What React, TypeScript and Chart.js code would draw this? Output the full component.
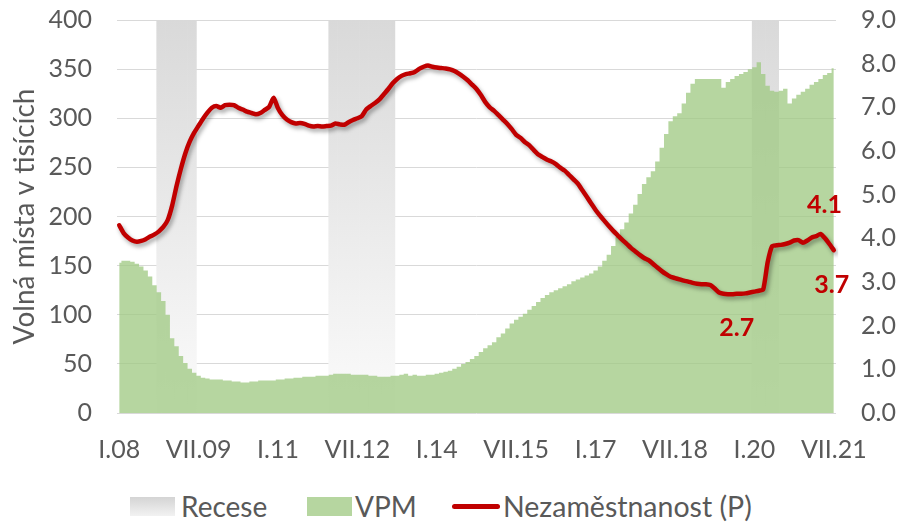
import React, { useEffect, useRef } from 'react';
import { Chart, registerables } from 'chart.js';

Chart.register(...registerables);

// ---------- DATA ----------
const ROMAN = ['I', 'II', 'III', 'IV', 'V', 'VI', 'VII', 'VIII', 'IX', 'X', 'XI', 'XII'];
const MONTH_COUNT = 163; // I.08 .. VII.21
const categories: string[] = Array.from({ length: MONTH_COUNT }, (_, i) =>
  `${ROMAN[i % 12]}.${String(8 + Math.floor(i / 12)).padStart(2, '0')}`
);
const tickEvery = 18;

// Volná pracovní místa (tis.)
const vpm = [
  153, 155, 155, 154, 152, 149, 145, 139, 130, 123, 114, 100,
  76, 68, 58, 51, 45, 41, 38, 36, 35, 34, 34, 34,
  33, 33, 32, 32, 31, 31, 32, 32, 33, 33, 33, 33,
  34, 34, 35, 35, 36, 36, 37, 37, 37, 38, 38, 38,
  39, 40, 40, 40, 40, 39, 39, 39, 39, 38, 38, 37,
  37, 37, 38, 38, 39, 40, 38, 39, 38, 38, 39, 39,
  40, 41, 42, 43, 45, 47, 50, 52, 55, 58, 62, 66,
  69, 72, 77, 81, 86, 91, 95, 98, 101, 105, 109, 113,
  117, 120, 123, 125, 127, 129, 131, 134, 136, 138, 140, 142,
  145, 149, 155, 161, 170, 179, 187, 194, 203, 212, 223, 233,
  240, 246, 256, 270, 284, 297, 302, 305, 315, 326, 335, 340,
  340, 340, 340, 340, 340, 331, 337, 340, 343, 345, 347, 350,
  352, 357, 345, 333, 328, 327, 328, 330, 315, 320, 324, 327,
  330, 334, 337, 340, 344, 346, 351,
];

// Nezaměstnanost (%), pravá osa
const unemployment = [
  4.30, 4.12, 4.02, 3.95, 3.92, 3.94, 3.98, 4.04, 4.09, 4.16, 4.26, 4.42,
  4.75, 5.20, 5.60, 5.95, 6.22, 6.42, 6.58, 6.74, 6.88, 6.99, 7.03, 6.99,
  7.05, 7.06, 7.05, 6.99, 6.95, 6.90, 6.87, 6.84, 6.87, 6.94, 7.01, 7.22,
  6.98, 6.82, 6.72, 6.66, 6.63, 6.64, 6.62, 6.58, 6.56, 6.57, 6.56, 6.57,
  6.58, 6.63, 6.61, 6.60, 6.66, 6.71, 6.75, 6.80, 6.95, 7.03, 7.10, 7.18,
  7.30, 7.42, 7.55, 7.65, 7.72, 7.76, 7.78, 7.81, 7.88, 7.93, 7.96, 7.93,
  7.91, 7.90, 7.89, 7.87, 7.83, 7.77, 7.70, 7.62, 7.52, 7.42, 7.28, 7.12,
  7.00, 6.92, 6.82, 6.72, 6.62, 6.50, 6.37, 6.30, 6.20, 6.13, 6.02, 5.92,
  5.86, 5.80, 5.76, 5.70, 5.62, 5.55, 5.45, 5.35, 5.25, 5.10, 4.95, 4.80,
  4.65, 4.52, 4.40, 4.28, 4.17, 4.07, 3.97, 3.88, 3.78, 3.70, 3.62, 3.55,
  3.50, 3.42, 3.33, 3.25, 3.18, 3.12, 3.09, 3.06, 3.03, 3.01, 2.98, 2.96,
  2.95, 2.95, 2.93, 2.85, 2.76, 2.73, 2.72, 2.72, 2.73, 2.73, 2.74, 2.76,
  2.78, 2.80, 2.83, 3.45, 3.82, 3.84, 3.85, 3.87, 3.90, 3.95, 3.96, 3.90,
  3.95, 4.02, 4.05, 4.10, 4.00, 3.87, 3.73,
];

// Recese (od – do)
const recessionPeriods: [string, string][] = [
  ['X.08', 'VI.09'],
  ['I.12', 'III.13'],
  ['I.20', 'VI.20'],
];

// Popisky hodnot nezaměstnanosti
const labelledMonths = ['IX.19', 'IV.21', 'VII.21'];

const leftMax = 400;
const leftStep = 50;
const rightMax = 9;
const rightStep = 1;

const seriesNames = { recession: 'Recese', vpm: 'VPM', unemp: 'Nezaměstnanost (P)' };
const leftTitle = 'Volná místa v tisících';

// ---------- derived ----------
const recessionData = categories.map((_, i) =>
  recessionPeriods.some(([a, b]) => i >= categories.indexOf(a) && i <= categories.indexOf(b)) ? leftMax : null
);

// ---------- styles ----------
const FONT = 'Lato';
const TEXT = '#595959';
const RED = '#c00000';
const GREEN = 'rgba(158, 200, 128, 0.75)';

const labelOffsets: Record<string, [number, number]> = {
  'IX.19': [0, 34],
  'IV.21': [4, -29],
  'VII.21': [-2, 35],
};

const shadowPlugin = {
  id: 'lineShadow',
  beforeDatasetDraw(chart: any, args: any) {
    if (args.index === 2) {
      const c = chart.ctx;
      c.save();
      c.shadowColor = 'rgba(0,0,0,0.35)';
      c.shadowBlur = 4;
      c.shadowOffsetX = 2;
      c.shadowOffsetY = 3;
    }
  },
  afterDatasetDraw(chart: any, args: any) {
    if (args.index === 2) chart.ctx.restore();
  },
};

const valueLabelPlugin = {
  id: 'valueLabels',
  afterDatasetsDraw(chart: any) {
    const meta = chart.getDatasetMeta(2);
    const c = chart.ctx;
    c.save();
    c.font = `bold 25px ${FONT}`;
    c.fillStyle = RED;
    c.textAlign = 'center';
    c.textBaseline = 'middle';
    labelledMonths.forEach((m) => {
      const idx = categories.indexOf(m);
      const el = meta.data[idx];
      if (!el) return;
      const [dx, dy] = labelOffsets[m] || [0, 0];
      c.fillText(unemployment[idx].toFixed(1), el.x + dx, el.y + dy);
    });
    c.restore();
  },
};

function recessionFill(ctx: any) {
  const area = ctx.chart.chartArea;
  if (!area) return '#e6e6e6';
  const g = ctx.chart.ctx.createLinearGradient(0, area.top, 0, area.bottom);
  g.addColorStop(0, '#d9d9d9');
  g.addColorStop(1, '#fbfbfb');
  return g;
}

export default function App() {
  const ref = useRef<HTMLCanvasElement | null>(null);

  useEffect(() => {
    if (!ref.current) return;
    const tickFont = { family: FONT, size: 25 };
    const chart = new Chart(ref.current, {
      type: 'bar',
      data: {
        labels: categories,
        datasets: [
          {
            type: 'bar',
            label: seriesNames.recession,
            data: recessionData,
            backgroundColor: recessionFill,
            borderWidth: 0,
            barPercentage: 1,
            categoryPercentage: 1,
            grouped: false,
            yAxisID: 'y',
            order: 3,
          } as any,
          {
            type: 'line',
            label: seriesNames.vpm,
            data: vpm,
            stepped: 'middle',
            fill: 'origin',
            backgroundColor: GREEN,
            borderWidth: 0,
            borderColor: 'rgba(0,0,0,0)',
            pointRadius: 0,
            yAxisID: 'y',
            order: 2,
          } as any,
          {
            type: 'line',
            label: seriesNames.unemp,
            data: unemployment,
            borderColor: RED,
            borderWidth: 4.5,
            pointRadius: 0,
            tension: 0.2,
            fill: false,
            borderCapStyle: 'round',
            borderJoinStyle: 'round',
            yAxisID: 'y1',
            order: 1,
          } as any,
        ],
      },
      options: {
        animation: false,
        responsive: true,
        maintainAspectRatio: false,
        layout: { padding: { top: 0, left: 0, right: 0, bottom: 0 } },
        plugins: {
          legend: { display: false },
          tooltip: { enabled: false },
        },
        scales: {
          x: {
            offset: true,
            grid: { display: false, drawTicks: false },
            border: { display: false },
            ticks: {
              autoSkip: false,
              maxRotation: 0,
              minRotation: 0,
              padding: 22,
              color: TEXT,
              font: tickFont,
              callback: (_v: any, i: number) => (i % tickEvery === 0 ? categories[i] : null),
            },
            afterFit: (s: any) => { s.height = 67; },
          },
          y: {
            position: 'left',
            min: 0,
            max: leftMax,
            ticks: { stepSize: leftStep, padding: 25, color: TEXT, font: tickFont },
            grid: { color: '#d9d9d9', lineWidth: 1, drawTicks: false },
            border: { display: false },
            title: { display: true, text: leftTitle, color: TEXT, font: { family: FONT, size: 28 }, padding: { top: 8, bottom: 0 } },
            afterFit: (s: any) => { s.width = 117; s.paddingTop = 20; s.paddingBottom = 15; },
          },
          y1: {
            position: 'right',
            min: 0,
            max: rightMax,
            ticks: {
              stepSize: rightStep,
              padding: 25,
              color: TEXT,
              font: tickFont,
              callback: (v: any) => Number(v).toFixed(1),
            },
            grid: { display: false, drawTicks: false },
            border: { display: false },
            afterFit: (s: any) => { s.width = 63; s.paddingTop = 20; s.paddingBottom = 15; },
          },
        },
      } as any,
      plugins: [shadowPlugin, valueLabelPlugin],
    });
    return () => chart.destroy();
  }, []);

  const legendText: React.CSSProperties = {
    position: 'absolute', top: 0, fontFamily: FONT, fontSize: 28, color: TEXT, lineHeight: '26px', whiteSpace: 'nowrap',
  };

  return (
    <div style={{ position: 'absolute', left: 0, top: 0, width: 899, height: 523, background: '#fff' }}>
      <div style={{ position: 'absolute', left: 0, top: 0, width: 899, height: 480 }}>
        <canvas ref={ref} />
      </div>
      <div style={{ position: 'absolute', left: 0, top: 493, width: 899, height: 26 }}>
        <div style={{ position: 'absolute', left: 130, top: 4, width: 45, height: 19, background: 'linear-gradient(#d4d4d4, #f2f2f2)' }} />
        <span style={{ ...legendText, left: 181 }}>{seriesNames.recession}</span>
        <div style={{ position: 'absolute', left: 307, top: 4, width: 45, height: 19, background: GREEN }} />
        <span style={{ ...legendText, left: 355 }}>{seriesNames.vpm}</span>
        <div style={{ position: 'absolute', left: 452, top: 11, width: 48, height: 5, borderRadius: 3, background: RED }} />
        <span style={{ ...legendText, left: 503, fontSize: 28.5 }}>{seriesNames.unemp}</span>
      </div>
    </div>
  );
}
